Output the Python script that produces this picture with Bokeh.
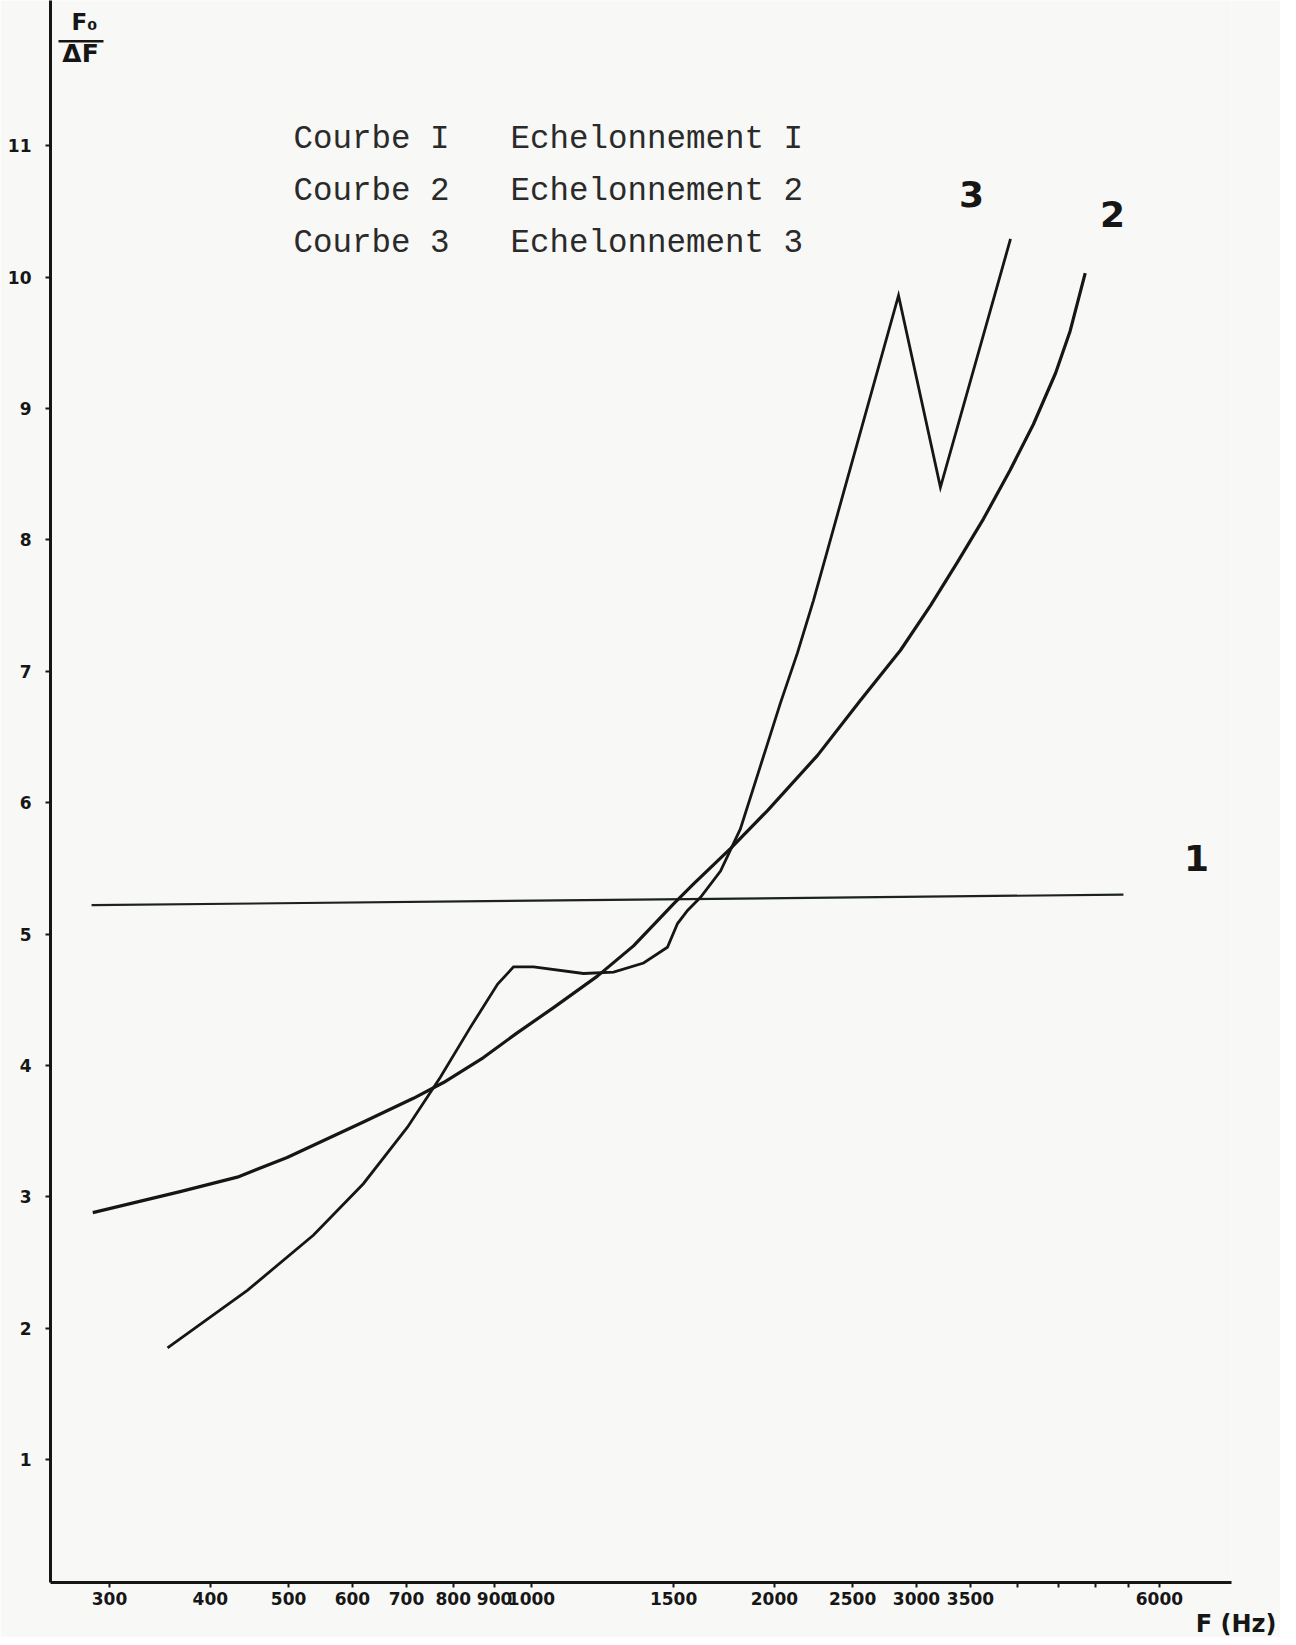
from bokeh.plotting import figure
from bokeh.models import FixedTicker, Label, BoxAnnotation, Range1d, Title
from bokeh.embed import file_html
from bokeh.resources import INLINE

# ---------------- data ----------------
x_ticks = [300, 400, 500, 600, 700, 800, 900, 1000, 1500, 2000, 2500, 3000, 3500,
           4000, 4500, 5000, 5500, 6000]
x_tick_labels = ["300", "400", "500", "600", "700", "800", "900", "1000", "1500",
                 "2000", "2500", "3000", "3500", "", "", "", "", "6000"]
y_ticks = [1, 2, 3, 4, 5, 6, 7, 8, 9, 10, 11]
y_tick_labels = ["1", "2", "3", "4", "5", "6", "7", "8", "9", "10", "11"]

# Courbe 1 (Echelonnement I)
curve1_f = [285, 5415]
curve1_v = [5.22, 5.30]

# Courbe 2 (Echelonnement 2)
curve2_f = [286, 367, 432, 498, 619, 714, 778, 872, 961, 1065, 1207, 1338, 1500,
            1587, 1764, 1961, 2262, 2557, 2866, 3122, 3372, 3632, 3918, 4188, 4462,
            4651, 4855]
curve2_v = [2.88, 3.04, 3.15, 3.30, 3.57, 3.75, 3.87, 4.06, 4.25, 4.44, 4.68, 4.91,
            5.23, 5.38, 5.65, 5.94, 6.36, 6.78, 7.16, 7.50, 7.83, 8.16, 8.53, 8.88,
            9.27, 9.59, 10.03]

# Courbe 3 (Echelonnement 3)
curve3_f = [354, 445, 537, 619, 702, 771, 840, 908, 950, 1006, 1160, 1264, 1377, 1474,
            1517, 1561, 1620, 1715, 1815, 1922, 2035, 2136, 2236, 2327, 2485, 2850,
            3212, 3923]
curve3_v = [1.85, 2.29, 2.71, 3.10, 3.53, 3.91, 4.29, 4.62, 4.75, 4.75, 4.70, 4.71,
            4.78, 4.90, 5.08, 5.18, 5.28, 5.48, 5.80, 6.28, 6.76, 7.14, 7.54, 7.92,
            8.55, 9.86, 8.40, 10.29]

legend_left = ["Courbe I", "Courbe 2", "Courbe 3"]
legend_right = ["Echelonnement I", "Echelonnement 2", "Echelonnement 3"]

# ---------------- figure ----------------
BG = "#f8f8f6"
INK = "#161616"

p = figure(width=1280, height=1637, x_axis_type="log",
           x_range=Range1d(253.5, 7370), y_range=Range1d(0.065, 12.105),
           output_backend="svg", toolbar_location=None,
           min_border_left=50, min_border_right=49, min_border_top=0,
           min_border_bottom=50)
p.title = None
p.background_fill_color = BG
p.border_fill_color = BG
p.outline_line_color = None
p.grid.visible = False

for ax in (p.xaxis[0], p.yaxis[0]):
    ax.axis_line_width = 3
    ax.axis_line_color = INK
    ax.major_tick_line_width = 2
    ax.major_tick_line_color = INK
    ax.major_tick_in = 0
    ax.major_tick_out = 5
    ax.minor_tick_line_color = None
    ax.major_label_text_font = "DejaVu Sans"
    ax.major_label_text_font_style = "bold"
    ax.major_label_text_color = INK

p.xaxis.ticker = FixedTicker(ticks=x_ticks)
p.xaxis.major_label_overrides = {t: l for t, l in zip(x_ticks, x_tick_labels)}
p.xaxis.major_label_text_font_size = "17px"
p.xaxis.major_label_standoff = 4

p.yaxis.ticker = FixedTicker(ticks=y_ticks)
p.yaxis.major_label_overrides = {t: l for t, l in zip(y_ticks, y_tick_labels)}
p.yaxis.major_label_text_font_size = "17px"
p.yaxis.major_label_standoff = 14

# x-axis quantity, right-aligned below the tick labels
p.add_layout(Title(text="F (Hz)", align="right", offset=-45, standoff=0,
                   text_font="DejaVu Sans", text_font_style="bold",
                   text_font_size="24px", text_color=INK), "below")

# curves
p.line(curve1_f, curve1_v, line_color="#1b231b", line_width=2.2)
p.line(curve2_f, curve2_v, line_color=INK, line_width=3.2, line_join="round")
p.line(curve3_f, curve3_v, line_color=INK, line_width=2.8, line_join="miter")

# curve number labels (data coords)
for txt, fx, vy in [("1", 6670, 5.58), ("2", 5248, 10.48), ("3", 3509, 10.63)]:
    p.add_layout(Label(x=fx, y=vy, text=txt, text_font="DejaVu Sans",
                       text_font_style="bold", text_font_size="36px",
                       text_color=INK, text_align="center", text_baseline="middle"))

# legend text block (screen units relative to frame bottom-left)
for i, (a, b) in enumerate(zip(legend_left, legend_right)):
    yb = 1443 - 52 * i
    p.add_layout(Label(x=243, y=yb, x_units="screen", y_units="screen", text=a,
                       text_font="Liberation Mono", text_font_size="32.5px",
                       text_color="#2a2a2a", text_baseline="alphabetic"))
    p.add_layout(Label(x=460, y=yb, x_units="screen", y_units="screen", text=b,
                       text_font="Liberation Mono", text_font_size="32.5px",
                       text_color="#2a2a2a", text_baseline="alphabetic"))

# y-axis quantity  F0 / ΔF
p.add_layout(Label(x=34, y=1561, x_units="screen", y_units="screen", text="F₀",
                   text_font="DejaVu Sans", text_font_style="bold",
                   text_font_size="23px", text_color=INK,
                   text_align="center", text_baseline="middle"))
p.add_layout(BoxAnnotation(left=8, right=53, bottom=1540, top=1542.5,
                           left_units="screen", right_units="screen",
                           bottom_units="screen", top_units="screen",
                           fill_color=INK, fill_alpha=1, line_color=None))
p.add_layout(Label(x=30, y=1529, x_units="screen", y_units="screen", text="ΔF",
                   text_font="DejaVu Sans", text_font_style="bold",
                   text_font_size="25px", text_color=INK,
                   text_align="center", text_baseline="middle"))

open("out.html", "w").write(file_html(p, INLINE))
